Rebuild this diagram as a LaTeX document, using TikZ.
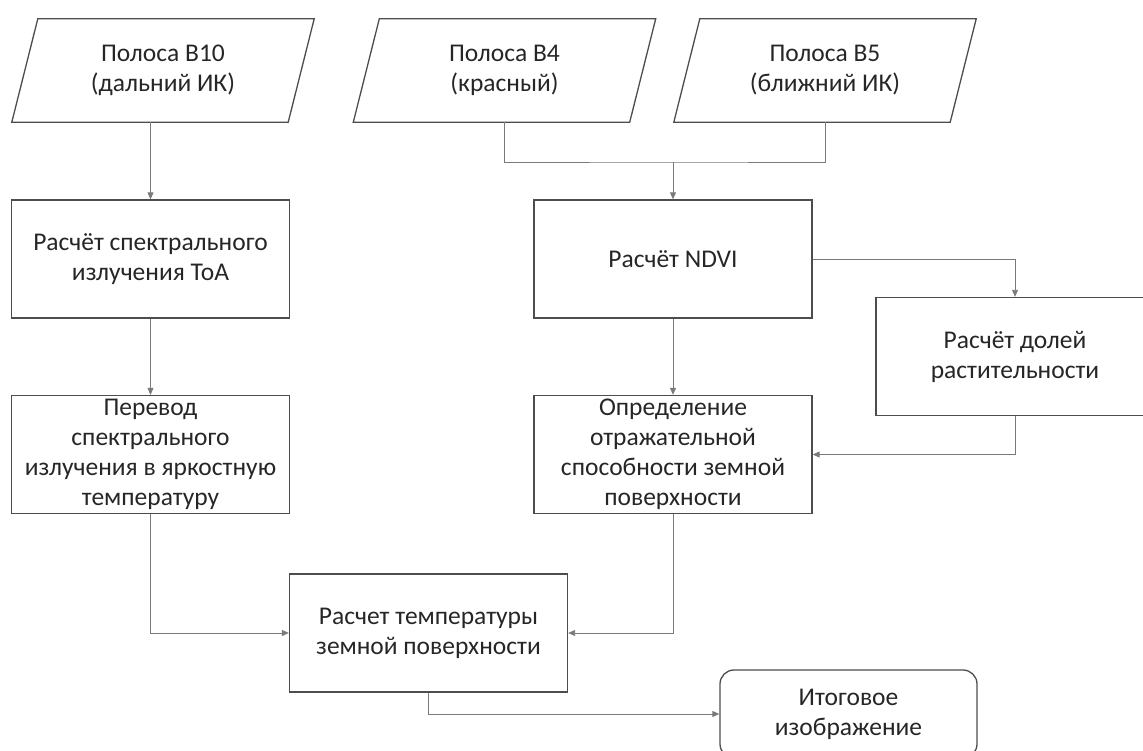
\documentclass[tikz,border=0pt]{standalone}
\usepackage{fontspec}
\setmainfont{Carlito}
\usetikzlibrary{arrows.meta}
\definecolor{ink}{HTML}{262626}
\definecolor{edgec}{HTML}{4D4D4D}
\definecolor{wirec}{HTML}{7A7A7A}
\begin{document}
\begin{tikzpicture}[x=1pt,y=-1pt,
  every node/.style={font=\fontsize{25.5}{30}\selectfont, text=ink, align=center, inner sep=0pt},
  proc/.style={draw=edgec, line width=1.3pt, minimum width=278pt, minimum height=118pt},
  band/.style={minimum width=276pt, minimum height=103pt},
  outline/.style={draw=edgec, line width=1.3pt, line join=miter},
  term/.style={draw=edgec, line width=1.3pt, rounded corners=14pt, minimum width=257pt, minimum height=88pt},
  link/.style={draw=wirec, line width=0.9pt, -{Triangle[length=7pt,width=6pt]}},
  joint/.style={draw=wirec, line width=0.9pt}]
\useasboundingbox (0,0) rectangle (1143,751);

% input bands (parallelograms)
\node[band] (b10) at (163,70.5) {Полоса B10\\(дальний ИК)};
\node[band] (b4)  at (504.5,70.5) {Полоса B4\\(красный)};
\node[band] (b5)  at (825,70.5) {Полоса B5\\(ближний ИК)};
\foreach \n in {b10,b4,b5}
  \draw[outline] ([xshift=13pt]\n.north west) -- ([xshift=13pt]\n.north east)
    -- ([xshift=-13pt]\n.south east) -- ([xshift=-13pt]\n.south west) -- cycle;

% processing steps
\node[proc] (toa)    at (150.5,259)   {Расчёт спектрального\\излучения ToA};
\node[proc] (bright) at (150.5,454.5) {Перевод\\спектрального\\излучения в яркостную\\температуру};
\node[proc] (ndvi)   at (673,259)     {Расчёт NDVI};
\node[proc] (refl)   at (673,454.5)   {Определение\\отражательной\\способности земной\\поверхности};
\node[proc] (frac)   at (1015,356.5)  {Расчёт долей\\растительности};
\node[proc] (temp)   at (428.5,633)   {Расчет температуры\\земной поверхности};
\node[term] (final)  at (848.5,714)   {Итоговое\\изображение};

% connectors
\coordinate (mrg) at (0,162);
\draw[link] (b10.south -| toa.north) -- (toa.north);
\draw[joint] (b4.south) |- (ndvi.north |- mrg) -| (b5.south);
\draw[link] (ndvi.north |- mrg) -- (ndvi.north);
\draw[link] (toa.south) -- (bright.north);
\draw[link] (ndvi.south) -- (refl.north);
\draw[link] (ndvi.east) -| (frac.north);
\draw[link] (frac.south) |- (refl.east);
\draw[link] (bright.south) |- (temp.west);
\draw[link] (refl.south) |- (temp.east);
\draw[link] (temp.south) |- (final.west);
\end{tikzpicture}
\end{document}
